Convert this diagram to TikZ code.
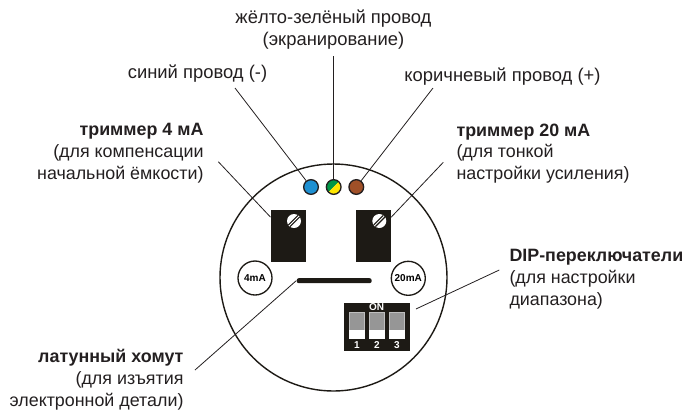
\documentclass[tikz,border=0pt]{standalone}
\usepackage{fontspec}
\setmainfont{Liberation Sans}

\tikzset{every picture/.style={line width=0.75pt}}
\tikzset{
	lbl/.style={inner sep=0pt,text={rgb, 255:red, 35; green, 31; blue, 32},font=\fontsize{13.8}{16.4}\selectfont},
	sidelbl/.style={lbl,font=\fontsize{13.4}{16.4}\selectfont},
	leader/.style={color={rgb, 255:red, 35; green, 31; blue, 32},line width=0.6pt},
	wire/.style={circle,draw={rgb, 255:red, 35; green, 31; blue, 32},line width=1pt,minimum size=11pt,inner sep=0pt},
	trimbox/.style={rectangle,fill={rgb, 255:red, 29; green, 26; blue, 21},minimum width=26pt,minimum height=38.6pt,inner sep=0pt},
	screwhead/.style={circle,fill=white,minimum size=10.5pt,inner sep=0pt,
		path picture={
			\draw [color={rgb, 255:red, 29; green, 26; blue, 21},line width=2.6pt] (path picture bounding box.south west) -- (path picture bounding box.north east);
			\draw [white,line width=0.7pt] (path picture bounding box.south west) -- (path picture bounding box.north east);
		}},
	rangemark/.style={circle,draw={rgb, 255:red, 29; green, 26; blue, 21},line width=1pt,minimum size=25.5pt,inner sep=0pt,font=\bfseries\fontsize{7.5}{8}\selectfont},
	swgrey/.style={rectangle,fill={rgb, 255:red, 150; green, 150; blue, 150},draw={rgb, 255:red, 190; green, 190; blue, 190},line width=0.4pt,minimum width=11.2pt,minimum height=13.5pt,inner sep=0pt},
	swwhite/.style={rectangle,fill=white,minimum width=11.6pt,minimum height=6.7pt,inner sep=0pt},
	dipnum/.style={inner sep=0pt,white,font=\bfseries\fontsize{7.5}{8}\selectfont}
}

\begin{document}
\begin{tikzpicture}[x=0.75pt,y=0.75pt,yscale=-1,xscale=1]
	\useasboundingbox (0,0) rectangle (686,412);

	%Shape: Ellipse [id:housing]
	\draw [color={rgb, 255:red, 29; green, 26; blue, 21},line width=1.05pt] (333.5,277.5) circle [radius=113.5];

	%Shape: Trimmers
	\draw (288.3,236) node [trimbox] (trimLow) {};
	\draw (373.3,236) node [trimbox] (trimHigh) {};
	\draw (294,221) node [screwhead] (screwLow) {};
	\draw (379.3,221) node [screwhead] (screwHigh) {};

	%Shape: Wires
	\draw (311,187) node [wire,fill={rgb, 255:red, 30; green, 144; blue, 210}] (wireBlue) {};
	\draw (333.7,187) node [wire,path picture={
		\fill [color={rgb, 255:red, 0; green, 150; blue, 70}] (path picture bounding box.south west) -- (path picture bounding box.north west) -- (path picture bounding box.north east) -- cycle;
		\fill [color={rgb, 255:red, 255; green, 230; blue, 0}] (path picture bounding box.south west) -- (path picture bounding box.south east) -- (path picture bounding box.north east) -- cycle;
	}] (wireGreen) {};
	\draw (356.3,187) node [wire,fill={rgb, 255:red, 160; green, 80; blue, 40}] (wireBrown) {};

	%Shape: Range marks
	\draw (255,278) node [rangemark] (markLow) {4mA};
	\draw (408.3,278.3) node [rangemark] (markHigh) {20mA};

	%Shape: Clamp
	\draw (334.2,280.7) node [rectangle,rounded corners=1.6pt,fill={rgb, 255:red, 29; green, 26; blue, 21},minimum width=56.2pt,minimum height=3.8pt,inner sep=0pt] (clamp) {};

	%Shape: DIP block
	\draw (377,327.2) node [rectangle,fill={rgb, 255:red, 29; green, 26; blue, 21},minimum width=49.5pt,minimum height=35.8pt,inner sep=0pt] (dipBlock) {};
	\draw (357,321.2) node [swgrey] (swOneTop) {};
	\draw (377,321.2) node [swgrey] (swTwoTop) {};
	\draw (396.8,321.2) node [swgrey] (swThreeTop) {};
	\draw (357,334.5) node [swwhite] (swOneLow) {};
	\draw (377,334.5) node [swwhite] (swTwoLow) {};
	\draw (396.8,334.5) node [swwhite] (swThreeLow) {};
	\draw (376.5,307.5) node [dipnum] (dipOn) {ON};
	\draw (357,345.5) node [dipnum] (dipOne) {1};
	\draw (377,345.5) node [dipnum] (dipTwo) {2};
	\draw (396.8,345.5) node [dipnum] (dipThree) {3};

	%Leader ends
	\coordinate (endBlue) at (235,88);
	\coordinate (endGreen) at (333.7,56);
	\coordinate (endBrown) at (433,88);
	\coordinate (endLow) at (218.3,161.7);
	\coordinate (endHigh) at (443.3,162.3);
	\coordinate (endDip) at (499.3,270);
	\coordinate (endClamp) at (195,370);

	%Leaders
	\draw [leader] (endBlue) -- (wireBlue);
	\draw [leader,line width=0.9pt] (endGreen) -- (wireGreen);
	\draw [leader] (endBrown) -- (wireBrown);
	\draw [leader] (endLow) -- (trimLow);
	\draw [leader] (endHigh) -- (trimHigh);
	\draw [leader,shorten >=4.5pt] (endDip) -- (dipBlock);
	\draw [leader] (endClamp) -- (clamp.west);

	% Text Node
	\draw (333.5,29.5) node [lbl,align=center] (lblGreen) {жёлто-зелёный провод\\(экранирование)};
	% Text Node
	\draw (197.5,74) node [lbl] (lblBlue) {синий провод (-)};
	% Text Node
	\draw (502.5,77) node [lbl] (lblBrown) {коричневый провод (+)};
	% Text Node
	\draw (204,153) node [sidelbl,align=right,anchor=east] (lblLow) {\textbf{триммер 4 мА}\\(для компенсации\\начальной ёмкости)};
	% Text Node
	\draw (456,153.5) node [sidelbl,align=left,anchor=west] (lblHigh) {\textbf{триммер 20 мА}\\(для тонкой\\настройки усиления)};
	% Text Node
	\draw (509,279.5) node [sidelbl,align=left,anchor=west] (lblDip) {\textbf{DIP-переключатели}\\(для настройки\\диапазона)};
	% Text Node
	\draw (184,380) node [sidelbl,align=right,anchor=east] (lblClamp) {\textbf{латунный хомут}\\(для изъятия\\электронной детали)};
\end{tikzpicture}
\end{document}
